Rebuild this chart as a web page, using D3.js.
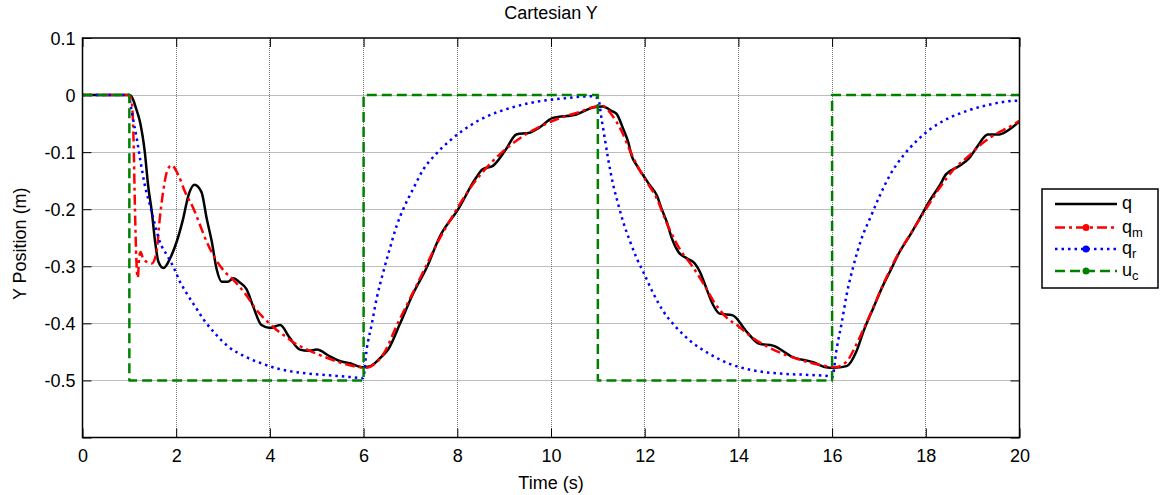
<!DOCTYPE html>
<html>
<head>
<meta charset="utf-8">
<script src="https://cdn.jsdelivr.net/npm/d3@7/dist/d3.min.js"></script>
<style>
  html, body { margin: 0; padding: 0; background: #fff; }
  svg { display: block; font-family: Arial, "Liberation Sans", sans-serif; }
</style>
</head>
<body>
<svg id="chart" width="1163" height="495"></svg>
<script>
// values: [time (s), Y position (m)]
const qData = [
  [0,0],[1.0,0],[1.05,-0.003],[1.15,-0.025],[1.23,-0.048],[1.33,-0.100],[1.40,-0.158],[1.48,-0.205],
  [1.55,-0.257],[1.62,-0.292],[1.73,-0.303],[1.87,-0.286],[2.01,-0.257],[2.15,-0.216],[2.26,-0.176],
  [2.39,-0.157],[2.54,-0.170],[2.65,-0.216],[2.76,-0.257],[2.86,-0.304],[2.97,-0.327],[3.11,-0.327],
  [3.22,-0.321],[3.35,-0.328],[3.50,-0.340],[3.65,-0.372],[3.82,-0.403],[4.00,-0.408],[4.22,-0.403],
  [4.42,-0.425],[4.64,-0.446],[4.82,-0.448],[5.00,-0.446],[5.28,-0.458],[5.49,-0.466],[5.71,-0.470],
  [5.99,-0.477],[6.14,-0.475],[6.35,-0.461],[6.53,-0.445],[6.78,-0.400],[7.05,-0.349],[7.36,-0.300],
  [7.62,-0.249],[8.02,-0.200],[8.40,-0.145],[8.54,-0.130],[8.76,-0.124],[9.04,-0.095],[9.26,-0.069],
  [9.54,-0.066],[9.75,-0.057],[10.04,-0.040],[10.54,-0.034],[10.89,-0.022],[11.10,-0.020],[11.30,-0.028],
  [11.40,-0.033],[11.54,-0.059],[11.65,-0.083],[11.72,-0.106],[11.83,-0.123],[11.97,-0.141],[12.11,-0.158],
  [12.26,-0.176],[12.36,-0.199],[12.47,-0.222],[12.58,-0.251],[12.72,-0.275],[12.90,-0.286],[13.07,-0.295],
  [13.18,-0.310],[13.30,-0.335],[13.45,-0.366],[13.60,-0.383],[13.88,-0.386],[14.16,-0.413],[14.45,-0.436],
  [14.74,-0.439],[15.16,-0.459],[15.59,-0.468],[15.87,-0.477],[16.03,-0.478],[16.31,-0.475],[16.52,-0.449],
  [16.67,-0.414],[16.88,-0.373],[17.09,-0.333],[17.23,-0.310],[17.44,-0.275],[17.66,-0.246],[17.87,-0.216],
  [18.09,-0.184],[18.30,-0.158],[18.43,-0.139],[18.72,-0.124],[18.93,-0.110],[19.11,-0.089],[19.32,-0.069],
  [19.57,-0.069],[19.79,-0.060],[20.0,-0.046]
];

const qmData = [
  [0,0],[1.0,0],[1.05,-0.01],[1.09,-0.08],[1.12,-0.20],[1.15,-0.29],[1.18,-0.320],[1.21,-0.285],
  [1.24,-0.275],[1.30,-0.288],[1.37,-0.292],[1.48,-0.295],[1.58,-0.275],[1.65,-0.216],[1.72,-0.170],
  [1.80,-0.135],[1.90,-0.123],[2.05,-0.141],[2.19,-0.170],[2.37,-0.199],[2.51,-0.228],[2.65,-0.257],
  [2.83,-0.286],[3.04,-0.310],[3.22,-0.324],[3.49,-0.350],[3.70,-0.375],[3.92,-0.395],[4.15,-0.412],
  [4.35,-0.424],[4.55,-0.436],[4.77,-0.445],[5.02,-0.454],[5.27,-0.462],[5.55,-0.470],[5.80,-0.475],
  [6.05,-0.478],[6.25,-0.470],[6.45,-0.450],[6.70,-0.405],[7.00,-0.355],[7.30,-0.305],[7.60,-0.255],
  [7.95,-0.205],[8.30,-0.160],[8.65,-0.125],[9.00,-0.097],[9.40,-0.072],[9.80,-0.054],[10.20,-0.040],
  [10.60,-0.030],[10.95,-0.020],[11.10,-0.019],[11.30,-0.035],[11.50,-0.062],[11.70,-0.100],[11.95,-0.140],
  [12.25,-0.180],[12.50,-0.230],[12.75,-0.270],[13.00,-0.298],[13.25,-0.330],[13.50,-0.365],[13.75,-0.390],
  [14.00,-0.405],[14.30,-0.425],[14.60,-0.440],[15.00,-0.455],[15.40,-0.466],[15.80,-0.474],[16.05,-0.477],
  [16.30,-0.468],[16.50,-0.440],[16.70,-0.405],[16.90,-0.368],[17.10,-0.330],[17.40,-0.280],[17.70,-0.240],
  [18.00,-0.200],[18.30,-0.162],[18.60,-0.130],[18.90,-0.108],[19.20,-0.085],[19.50,-0.068],[19.80,-0.055],
  [20.0,-0.045]
];

const qrData = [
  [0,0],[1.0,0],[1.01,-0.007],[1.08,-0.042],[1.16,-0.077],[1.23,-0.112],[1.33,-0.158],[1.44,-0.193],
  [1.55,-0.228],[1.65,-0.257],[1.80,-0.280],[1.94,-0.301],[2.08,-0.327],[2.22,-0.347],[2.40,-0.370],
  [2.60,-0.395],[2.80,-0.415],[3.10,-0.440],[3.49,-0.459],[3.85,-0.471],[4.20,-0.480],[4.70,-0.487],
  [5.27,-0.491],[5.70,-0.494],[5.99,-0.496],[6.07,-0.443],[6.17,-0.403],[6.28,-0.356],[6.42,-0.310],
  [6.56,-0.269],[6.71,-0.228],[6.85,-0.199],[7.06,-0.164],[7.27,-0.131],[7.56,-0.102],[7.84,-0.080],
  [8.10,-0.063],[8.49,-0.043],[8.85,-0.030],[9.20,-0.021],[9.54,-0.014],[10.25,-0.006],[10.89,-0.002],
  [11.01,-0.007],[11.08,-0.042],[11.15,-0.077],[11.22,-0.112],[11.33,-0.158],[11.44,-0.193],[11.54,-0.222],
  [11.69,-0.257],[11.83,-0.286],[11.97,-0.310],[12.18,-0.347],[12.39,-0.378],[12.65,-0.405],[12.96,-0.430],
  [13.35,-0.452],[13.81,-0.471],[14.30,-0.482],[14.88,-0.488],[15.40,-0.490],[15.87,-0.492],[16.00,-0.495],
  [16.10,-0.443],[16.21,-0.397],[16.31,-0.350],[16.45,-0.301],[16.63,-0.251],[16.81,-0.216],[17.02,-0.176],
  [17.23,-0.141],[17.52,-0.106],[17.81,-0.080],[18.09,-0.060],[18.40,-0.044],[18.80,-0.030],[19.29,-0.018],
  [19.96,-0.010],[20,-0.010]
];

const ucData = [
  [0,0],[1,0],[1,-0.5],[6,-0.5],[6,0],[11,0],[11,-0.5],[16,-0.5],[16,0],[20,0]
];

const xTicks = [0, 2, 4, 6, 8, 10, 12, 14, 16, 18, 20];
const yTicks = [0.1, 0, -0.1, -0.2, -0.3, -0.4, -0.5, -0.6];
const yTickLabels = ['0.1', '0', '-0.1', '-0.2', '-0.3', '-0.4', '-0.5', ''];

const series = [
  { name: 'q', sub: '', data: qData, color: '#000000', dash: null, marker: false, curve: d3.curveMonotoneX },
  { name: 'q', sub: 'm', data: qmData, color: '#ff0000', dash: '10,4,3,4', marker: true, curve: d3.curveMonotoneX },
  { name: 'q', sub: 'r', data: qrData, color: '#0000ff', dash: '2.5,4', marker: true, curve: d3.curveMonotoneX },
  { name: 'u', sub: 'c', data: ucData, color: '#008000', dash: '10,5', marker: true, curve: d3.curveLinear }
];

const svg = d3.select('#chart');
const plotLeft = 82.5, plotRight = 1019.5, plotTop = 38, plotBottom = 437.5;

const x = d3.scaleLinear().domain([0, 20]).range([plotLeft, plotRight]);
const y = d3.scaleLinear().domain([-0.6, 0.1]).range([plotBottom, plotTop]);
// snap 1px lines onto pixel centres so the dotted grid stays crisp
const crisp = v => Math.round(v - 0.5) + 0.5;

svg.append('rect').attr('width', 1163).attr('height', 495).attr('fill', '#fff');

// grid lines (dotted, like matlab)
const grid = svg.append('g');
grid.selectAll('line.gx')
  .data(xTicks.slice(1, -1))
  .join('line')
  .attr('class', 'gx')
  .attr('x1', d => crisp(x(d))).attr('x2', d => crisp(x(d)))
  .attr('y1', plotTop).attr('y2', plotBottom)
  .attr('stroke', '#7a7a7a').attr('stroke-width', 1).attr('stroke-dasharray', '1,1');
grid.selectAll('line.gy')
  .data(yTicks.slice(1, -1))
  .join('line')
  .attr('class', 'gy')
  .attr('x1', plotLeft).attr('x2', plotRight)
  .attr('y1', d => crisp(y(d))).attr('y2', d => crisp(y(d)))
  .attr('stroke', '#7a7a7a').attr('stroke-width', 1).attr('stroke-dasharray', '1,1');

// axes with inward ticks
const tickLen = 9;
const xAxisB = d3.axisBottom(x).tickValues(xTicks).tickSizeInner(-tickLen).tickSizeOuter(0).tickFormat(d => d);
const xAxisT = d3.axisTop(x).tickValues(xTicks).tickSizeInner(-tickLen).tickSizeOuter(0).tickFormat('');
const yAxisL = d3.axisLeft(y).tickValues(yTicks).tickSizeInner(-tickLen).tickSizeOuter(0)
  .tickFormat((d, i) => yTickLabels[i]);
const yAxisR = d3.axisRight(y).tickValues(yTicks).tickSizeInner(-tickLen).tickSizeOuter(0).tickFormat('');

function styleAxis(g) {
  g.select('.domain').remove();
  g.selectAll('.tick line').attr('stroke', '#000').attr('stroke-width', 1);
  g.selectAll('.tick text')
    .attr('fill', '#000')
    .style('font-family', 'Arial, "Liberation Sans", sans-serif')
    .style('font-size', '18px');
}

svg.append('g').attr('transform', `translate(0,${plotBottom})`).call(xAxisB).call(styleAxis)
  .selectAll('.tick text').attr('y', 12).attr('dy', '0.71em');
svg.append('g').attr('transform', `translate(0,${plotTop})`).call(xAxisT).call(styleAxis);
svg.append('g').attr('transform', `translate(${plotLeft},0)`).call(yAxisL).call(styleAxis)
  .selectAll('.tick text').attr('x', -7).attr('dy', '0.35em');
svg.append('g').attr('transform', `translate(${plotRight},0)`).call(yAxisR).call(styleAxis);

// data lines, clipped to the axes box
svg.append('clipPath').attr('id', 'plotClip')
  .append('rect').attr('x', plotLeft).attr('y', plotTop)
  .attr('width', plotRight - plotLeft).attr('height', plotBottom - plotTop);

const plot = svg.append('g').attr('clip-path', 'url(#plotClip)');
series.forEach(s => {
  const line = d3.line().x(d => x(d[0])).y(d => y(d[1])).curve(s.curve);
  plot.append('path')
    .datum(s.data)
    .attr('d', line)
    .attr('fill', 'none')
    .attr('stroke', s.color)
    .attr('stroke-width', 2.5)
    .attr('stroke-linejoin', 'round')
    .attr('stroke-dasharray', s.dash);
});

// axes box
svg.append('rect')
  .attr('x', plotLeft).attr('y', plotTop)
  .attr('width', plotRight - plotLeft).attr('height', plotBottom - plotTop)
  .attr('fill', 'none').attr('stroke', '#000').attr('stroke-width', 1.5);

// title and axis labels
svg.append('text')
  .attr('x', (plotLeft + plotRight) / 2).attr('y', 19)
  .attr('text-anchor', 'middle')
  .style('font-size', '18px')
  .text('Cartesian Y');
svg.append('text')
  .attr('x', (plotLeft + plotRight) / 2).attr('y', 489)
  .attr('text-anchor', 'middle')
  .style('font-size', '18px')
  .text('Time (s)');
svg.append('text')
  .attr('transform', `translate(26,${(plotTop + plotBottom) / 2 + 6}) rotate(-90)`)
  .attr('text-anchor', 'middle')
  .style('font-size', '18px')
  .text('Y Position (m)');

// legend
const legend = svg.append('g').attr('transform', 'translate(1042,189)');
legend.append('rect')
  .attr('width', 116).attr('height', 99)
  .attr('fill', '#fff').attr('stroke', '#000').attr('stroke-width', 1.5);

const rowY = [15, 38.5, 60, 82];
const rows = legend.selectAll('g.row')
  .data(series)
  .join('g')
  .attr('class', 'row')
  .attr('transform', (d, i) => `translate(0,${rowY[i]})`);

rows.append('line')
  .attr('x1', 13).attr('x2', 75)
  .attr('stroke', d => d.color)
  .attr('stroke-width', 2.5)
  .attr('stroke-dasharray', d => d.dash);
rows.filter(d => d.marker).append('circle')
  .attr('cx', 44).attr('r', 3.5)
  .attr('fill', d => d.color);

const labels = rows.append('text')
  .attr('x', 80).attr('y', 5)
  .style('font-size', '18px');
labels.append('tspan').text(d => d.name);
labels.append('tspan')
  .attr('dy', 4)
  .style('font-size', '13px')
  .text(d => d.sub);
</script>
</body>
</html>
